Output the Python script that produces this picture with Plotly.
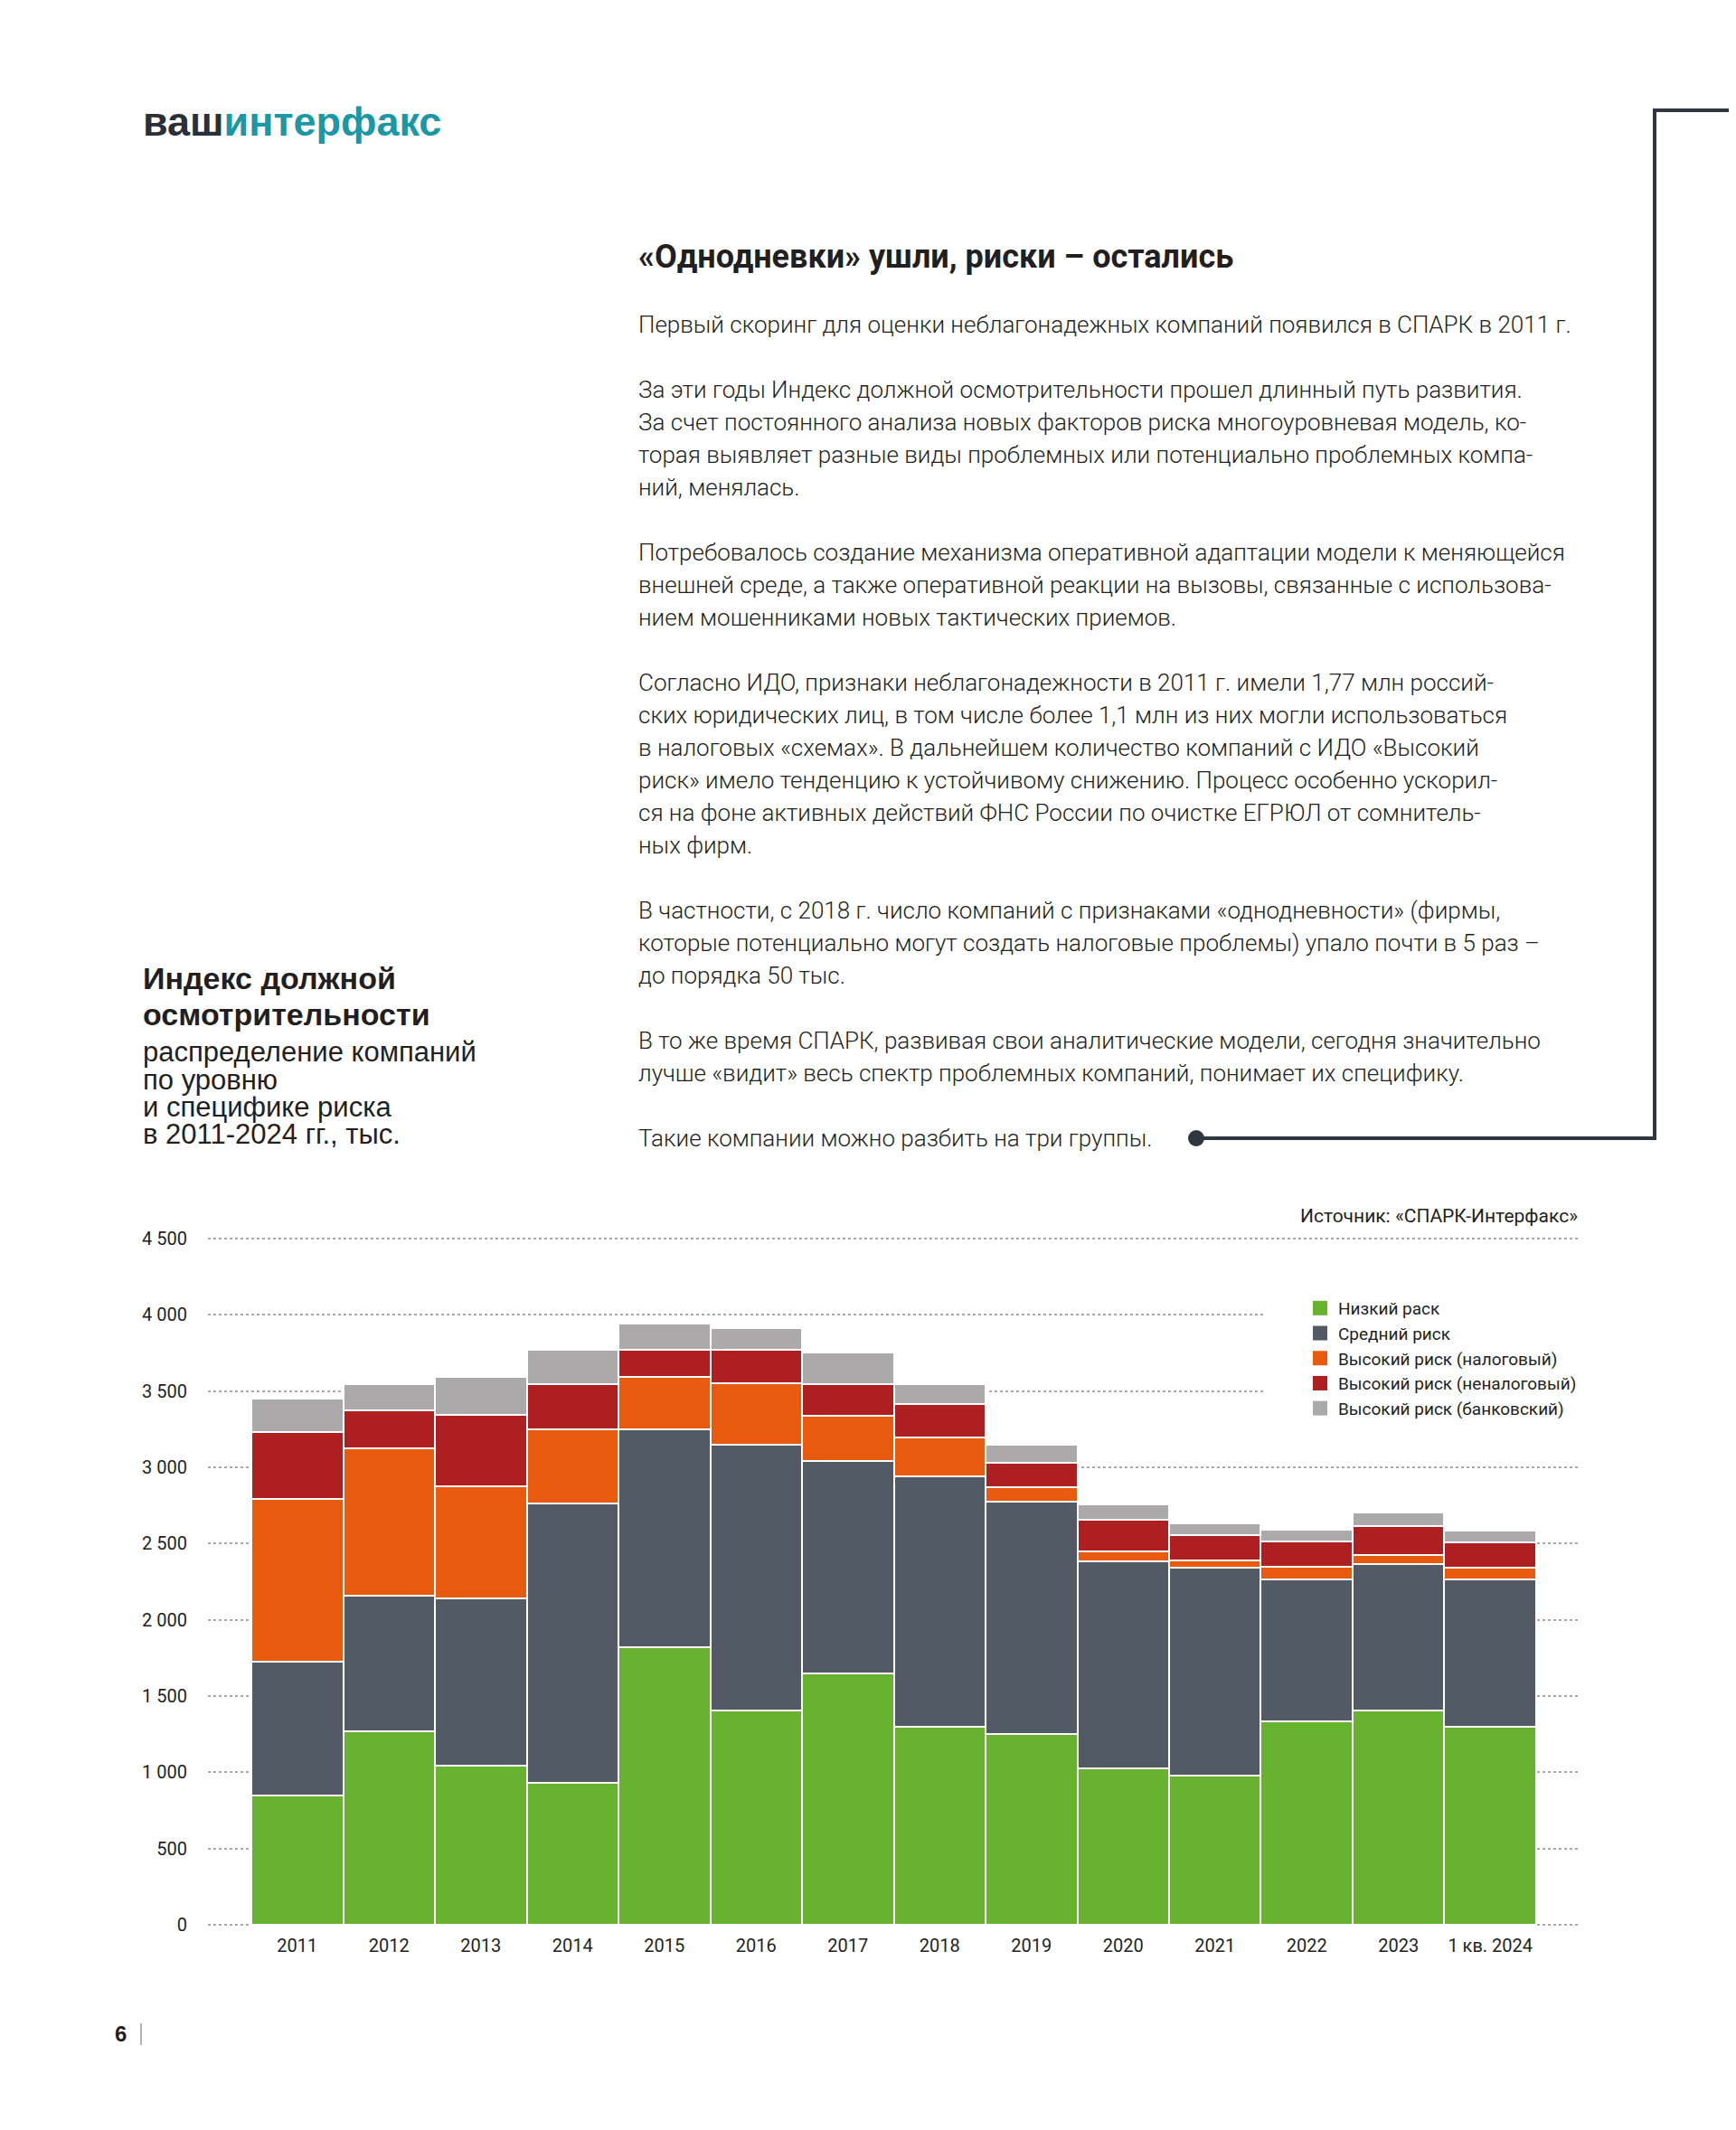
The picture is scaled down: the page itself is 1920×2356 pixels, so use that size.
import plotly.graph_objects as go

# ---------------- data (тыс. компаний) ----------------
categories = ["2011", "2012", "2013", "2014", "2015", "2016", "2017",
              "2018", "2019", "2020", "2021", "2022", "2023", "1 кв. 2024"]

low_risk      = [850, 1267, 1045, 932, 1822, 1405, 1648, 1296, 1252, 1024, 980, 1334, 1403, 1298]
medium_risk   = [875, 894, 1094, 1828, 1425, 1744, 1394, 1646, 1521, 1362, 1360, 928, 964, 969]
high_tax      = [1070, 962, 738, 490, 348, 401, 298, 251, 99, 64, 50, 83, 59, 72]
high_nontax   = [437, 252, 465, 296, 173, 218, 204, 224, 159, 206, 163, 168, 189, 167]
high_bank     = [216, 170, 252, 222, 174, 147, 209, 127, 117, 98, 77, 77, 86, 81]

series_names = ["Низкий раск", "Средний риск", "Высокий риск (налоговый)",
                "Высокий риск (неналоговый)", "Высокий риск (банковский)"]
series_values = [low_risk, medium_risk, high_tax, high_nontax, high_bank]
series_colors = ["#67b22f", "#525a66", "#e85b0e", "#ad1f21", "#aca9aa"]

y_tickvals = [0, 500, 1000, 1500, 2000, 2500, 3000, 3500, 4000, 4500]
y_ticktext = ["0", "500", "1 000", "1 500", "2 000", "2 500", "3 000", "3 500", "4 000", "4 500"]

# ---------------- page texts ----------------
paragraphs = [
    ["Первый скоринг для оценки неблагонадежных компаний появился в СПАРК в 2011 г."],
    ["За эти годы Индекс должной осмотрительности прошел длинный путь развития.",
     "За счет постоянного анализа новых факторов риска многоуровневая модель, ко-",
     "торая выявляет разные виды проблемных или потенциально проблемных компа-",
     "ний, менялась."],
    ["Потребовалось создание механизма оперативной адаптации модели к меняющейся",
     "внешней среде, а также оперативной реакции на вызовы, связанные с использова-",
     "нием мошенниками новых тактических приемов."],
    ["Согласно ИДО, признаки неблагонадежности в 2011 г. имели 1,77 млн россий-",
     "ских юридических лиц, в том числе более 1,1 млн из них могли использоваться",
     "в налоговых «схемах». В дальнейшем количество компаний с ИДО «Высокий",
     "риск» имело тенденцию к устойчивому снижению. Процесс особенно ускорил-",
     "ся на фоне активных действий ФНС России по очистке ЕГРЮЛ от сомнитель-",
     "ных фирм."],
    ["В частности, с 2018 г. число компаний с признаками «однодневности» (фирмы,",
     "которые потенциально могут создать налоговые проблемы) упало почти в 5 раз –",
     "до порядка 50 тыс."],
    ["В то же время СПАРК, развивая свои аналитические модели, сегодня значительно",
     "лучше «видит» весь спектр проблемных компаний, понимает их специфику."],
    ["Такие компании можно разбить на три группы."],
]

# ---------------- geometry ----------------
W, H = 1920, 2356
ML, MR, MT, MB = 222, 181, 1359, 232
PW = W - ML - MR
PH = H - MT - MB
OX, OY = -8, -8


def fx(px):
    return (px + OX - ML) / PW


def fy(py):
    return (H - MB - (py + OY)) / PH


TXT = "#231f20"
NARROW = "Roboto, 'Liberation Sans', Arial, sans-serif"
ARIAL = "'Liberation Sans', Arial, sans-serif"

fig = go.Figure()
for name, vals, col in zip(series_names, series_values, series_colors):
    fig.add_trace(go.Bar(
        x=categories, y=vals, name=name, showlegend=False,
        marker=dict(color=col, line=dict(color="white", width=2)),
        hoverinfo="x+y+name",
    ))
# legend entries (plain squares, no outline)
for name, col in zip(series_names, series_colors):
    fig.add_trace(go.Scatter(
        x=[None], y=[None], mode="markers", name=name,
        marker=dict(symbol="square", size=16, color=col),
        showlegend=True, hoverinfo="skip",
    ))

annotations = []

# logo
annotations.append(dict(
    x=fx(156), y=fy(134), xref="paper", yref="paper", xanchor="left", yanchor="middle",
    text="<b><span style='color:#2b2f37'>ваш</span><span style='color:#1a98a6'>интерфакс</span></b>",
    showarrow=False, font=dict(family=ARIAL, size=45)))

# article title
annotations.append(dict(
    x=fx(704), y=fy(284), xref="paper", yref="paper", xanchor="left", yanchor="middle",
    text="<b>«Однодневки» ушли, риски – остались</b>", showarrow=False,
    font=dict(family=NARROW, size=36, color=TXT)))

# body text
y_line = 359
for p in paragraphs:
    for line in p:
        annotations.append(dict(
            x=fx(704), y=fy(y_line), xref="paper", yref="paper", xanchor="left", yanchor="middle",
            text=line, showarrow=False,
            font=dict(family=NARROW, size=26, color=TXT, weight=300)))
        y_line += 36
    y_line += 36

# chart title (left)
for txt, yy in [("<b>Индекс должной</b>", 1082), ("<b>осмотрительности</b>", 1122)]:
    annotations.append(dict(
        x=fx(156), y=fy(yy), xref="paper", yref="paper", xanchor="left", yanchor="middle",
        text=txt, showarrow=False, font=dict(family=ARIAL, size=34, color=TXT)))
for txt, yy in [("распределение компаний", 1163), ("по уровню", 1194),
                ("и специфике риска", 1224), ("в 2011-2024 гг., тыс.", 1254)]:
    annotations.append(dict(
        x=fx(156), y=fy(yy), xref="paper", yref="paper", xanchor="left", yanchor="middle",
        text=txt, showarrow=False, font=dict(family=ARIAL, size=31, color=TXT)))

# source
annotations.append(dict(
    x=fx(1747), y=fy(1345), xref="paper", yref="paper", xanchor="right", yanchor="middle",
    text="Источник: «СПАРК-Интерфакс»", showarrow=False,
    font=dict(family=NARROW, size=21, color=TXT)))

# page number
annotations.append(dict(
    x=fx(125), y=fy(2249), xref="paper", yref="paper", xanchor="left", yanchor="middle",
    text="<b>6</b>", showarrow=False, font=dict(family=ARIAL, size=24, color=TXT)))

LINE_C = "#2e3640"
shapes = [
    # bracket: top, vertical, bottom
    dict(type="line", xref="paper", yref="paper", x0=fx(1830), x1=fx(1935), y0=fy(122), y1=fy(122),
         line=dict(color=LINE_C, width=4)),
    dict(type="line", xref="paper", yref="paper", x0=fx(1830), x1=fx(1830), y0=fy(120), y1=fy(1261),
         line=dict(color=LINE_C, width=4)),
    dict(type="line", xref="paper", yref="paper", x0=fx(1323), x1=fx(1832), y0=fy(1259), y1=fy(1259),
         line=dict(color=LINE_C, width=4)),
    dict(type="circle", xref="paper", yref="paper", x0=fx(1314), x1=fx(1332), y0=fy(1250), y1=fy(1268),
         fillcolor=LINE_C, line=dict(color=LINE_C, width=0)),
    # page number separator
    dict(type="line", xref="paper", yref="paper", x0=fx(156), x1=fx(156), y0=fy(2238), y1=fy(2262),
         line=dict(color="#9a9a9a", width=1.5)),
    # white area behind legend hides gridlines
    dict(type="rect", xref="paper", yref="paper", x0=fx(1400), x1=fx(1765), y0=fy(1400), y1=fy(1585),
         fillcolor="white", line=dict(width=0), layer="above"),
]

fig.update_layout(
    width=W, height=H,
    margin=dict(l=ML, r=MR, t=MT, b=MB, autoexpand=False),
    paper_bgcolor="white", plot_bgcolor="white",
    barmode="stack", bargap=0,
    font=dict(family=NARROW, size=20, color=TXT),
    showlegend=True,
    legend=dict(
        x=fx(1440), y=fy(1428), xanchor="left", yanchor="top",
        traceorder="normal", bgcolor="rgba(0,0,0,0)",
        font=dict(family=NARROW, size=19, color=TXT),
        itemclick=False, itemdoubleclick=False,
    ),
    xaxis=dict(
        type="category", range=[-0.973, 13.973],
        showgrid=False, showline=False, zeroline=False, ticks="",
        tickfont=dict(family=NARROW, size=20, color=TXT), ticklabelstandoff=6,
        fixedrange=True,
    ),
    yaxis=dict(
        range=[-17.8, 4517.8], tickvals=y_tickvals, ticktext=y_ticktext,
        showgrid=True, gridcolor="#a8a8a8", gridwidth=2, griddash="dot",
        zeroline=False, showline=False, ticks="",
        tickfont=dict(family=NARROW, size=20, color=TXT), ticklabelstandoff=22,
        fixedrange=True,
    ),
    annotations=annotations,
    shapes=shapes,
)

fig.write_html("out.html")
